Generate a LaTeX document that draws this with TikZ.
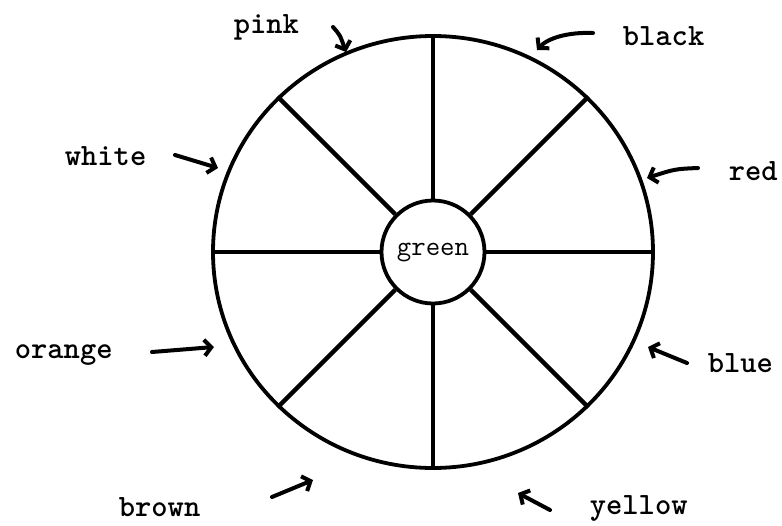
\documentclass[tikz,border=0pt]{standalone}
\usetikzlibrary{shapes.geometric, arrows.meta}

\begin{document}
\begin{tikzpicture}[x=1pt, y=-1pt, line width=3.8pt,
    lbl/.style={font=\ttfamily\bfseries\fontsize{31}{31}\selectfont, inner sep=0pt, anchor=base west},
    pointer/.style={-{Straight Barb[length=7pt, width=16pt]}, line width=4pt, line cap=round}]
        \useasboundingbox (0,0) rectangle (782,525);

        \node[draw, ellipse, minimum width=440pt, minimum height=432pt, inner sep=0pt] (wheel) at (433,252) {};
        \node[draw, circle, minimum size=103pt, inner sep=0pt, font=\ttfamily\fontsize{28}{28}\selectfont] (hub) at (433,252) {green};

        % spokes
        \foreach \a in {0,45,...,315}
            \draw[line width=4.3pt] (hub.\a) -- (wheel.\a);

        % labels
        \node[lbl] (pink)   at (232,33)  {pink};
        \node[lbl] (black)  at (621,45)  {black};
        \node[lbl] (white)  at (63,165)  {white};
        \node[lbl] (red)    at (727,180) {red};
        \node[lbl] (orange) at (13,358)  {orange};
        \node[lbl] (blue)   at (706,372) {blue};
        \node[lbl] (brown)  at (117,516) {brown};
        \node[lbl] (yellow) at (588,514) {yellow};

        \coordinate (pinkA)   at (333,27);   \coordinate (pinkB)   at (346,52);
        \coordinate (blackA)  at (593,33);   \coordinate (blackB)  at (537,50);
        \coordinate (whiteA)  at (175,155);  \coordinate (whiteB)  at (218,168);
        \coordinate (redA)    at (698,168);  \coordinate (redB)    at (647,178);
        \coordinate (orangeA) at (152,352);  \coordinate (orangeB) at (214,347);
        \coordinate (blueA)   at (687,363);  \coordinate (blueB)   at (648,347);
        \coordinate (brownA)  at (272,497);  \coordinate (brownB)  at (313,480);
        \coordinate (yellowA) at (550,510);  \coordinate (yellowB) at (518,493);

        \draw[pointer] (pinkA) .. controls (340,35) .. (pinkB);
        \draw[pointer] (blackA) .. controls (568,32) and (548,38) .. (blackB);
        \draw[pointer] (whiteA) -- (whiteB);
        \draw[pointer] (redA) .. controls (675,169) .. (redB);
        \draw[pointer] (orangeA) -- (orangeB);
        \draw[pointer] (blueA) -- (blueB);
        \draw[pointer] (brownA) -- (brownB);
        \draw[pointer] (yellowA) -- (yellowB);
\end{tikzpicture}
\end{document}
